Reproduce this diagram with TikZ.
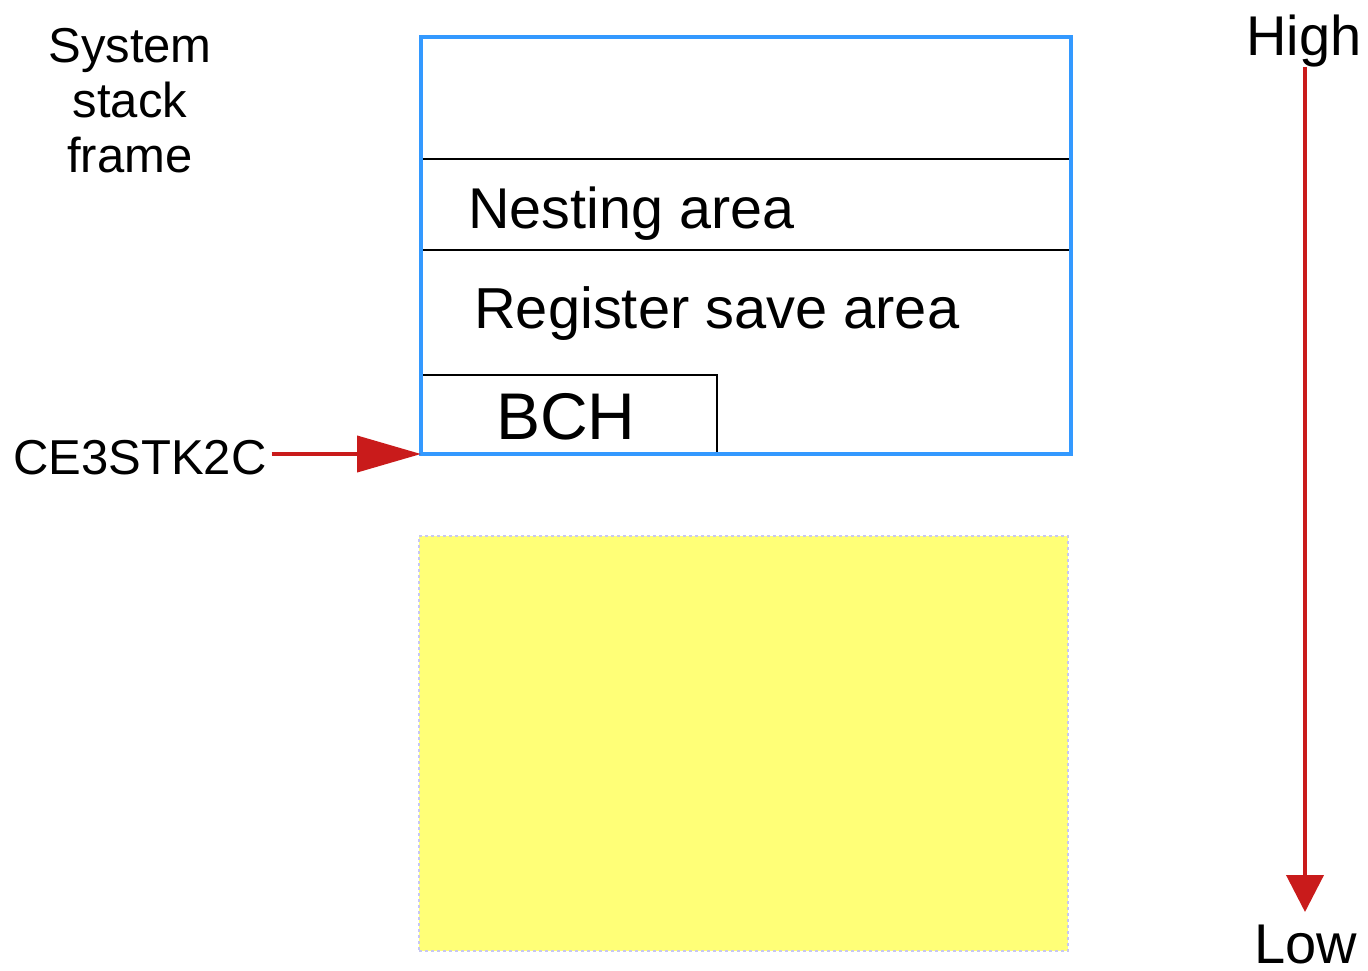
\documentclass[tikz,border=0pt]{standalone}
\usepackage{fontspec}
\setmainfont{Liberation Sans}
\usetikzlibrary{arrows.meta}
\definecolor{frameblue}{HTML}{3399FF}
\definecolor{arrowred}{HTML}{C91B1B}
\definecolor{padyellow}{HTML}{FFFF77}
\definecolor{padedge}{HTML}{C8C8F0}
\tikzset{
  lbl/.style={inner sep=0pt, text=black},
  divider/.style={draw=black, line width=2pt},
  redline/.style={draw=arrowred, line width=4pt, fill=arrowred},
}
\begin{document}
\begin{tikzpicture}[x=1pt, y=-1pt]
\useasboundingbox (0,0) rectangle (1368,970);

% stack frame outline and its areas
\draw[divider] (421,159) -- (1071,159);
\draw[divider] (421,250) -- (1071,250);
\draw[line width=2pt] (421,375) -- (717,375) -- (717,454);
\node[draw=frameblue, line width=4pt, minimum width=650pt, minimum height=417pt,
      anchor=north west, inner sep=0pt, outer sep=0pt] (frame) at (421,37) {};

\node[lbl, anchor=base west, font=\fontsize{57.5}{57.5}\selectfont] (nest) at (468,228) {Nesting area};
\node[lbl, anchor=base west, font=\fontsize{57.8}{57.8}\selectfont] (regs) at (474,328) {Register save area};
\node[lbl, anchor=base west, font=\fontsize{66}{66}\selectfont] (bch) at (496,439) {BCH};

% free area below the frame
\node[fill=padyellow, draw=padedge, line width=2pt, dash pattern=on 3pt off 3pt,
      minimum width=649pt, minimum height=415pt, anchor=north west, inner sep=0pt,
      outer sep=0pt] (pad) at (419,536) {};

% heading
\node[lbl, align=center, font=\fontsize{49}{55}\selectfont, anchor=north] (title) at (130,28)
  {System\\stack\\frame};

% pointer to the bottom of the frame
\node[lbl, anchor=base west, font=\fontsize{49}{49}\selectfont] (ptr) at (13,474) {CE3STK2C};
\path (ptr.east) ++(5pt,0) coordinate (ptrstart);
\draw[redline, -{Triangle[length=64pt,width=36pt]}]
  (ptrstart |- frame.south west) -- (frame.south west);

% address direction
\node[lbl, anchor=base, font=\fontsize{56}{56}\selectfont] (high) at (1304,55) {High};
\node[lbl, anchor=base, text depth=0pt, font=\fontsize{56}{56}\selectfont] (low) at (1306,963) {Low};
\coordinate (downtop) at (1305,67);
\coordinate (downend) at (1305,912);
\draw[redline, -{Triangle[length=37pt,width=37pt]}] (downtop) -- (downend);
\end{tikzpicture}
\end{document}
